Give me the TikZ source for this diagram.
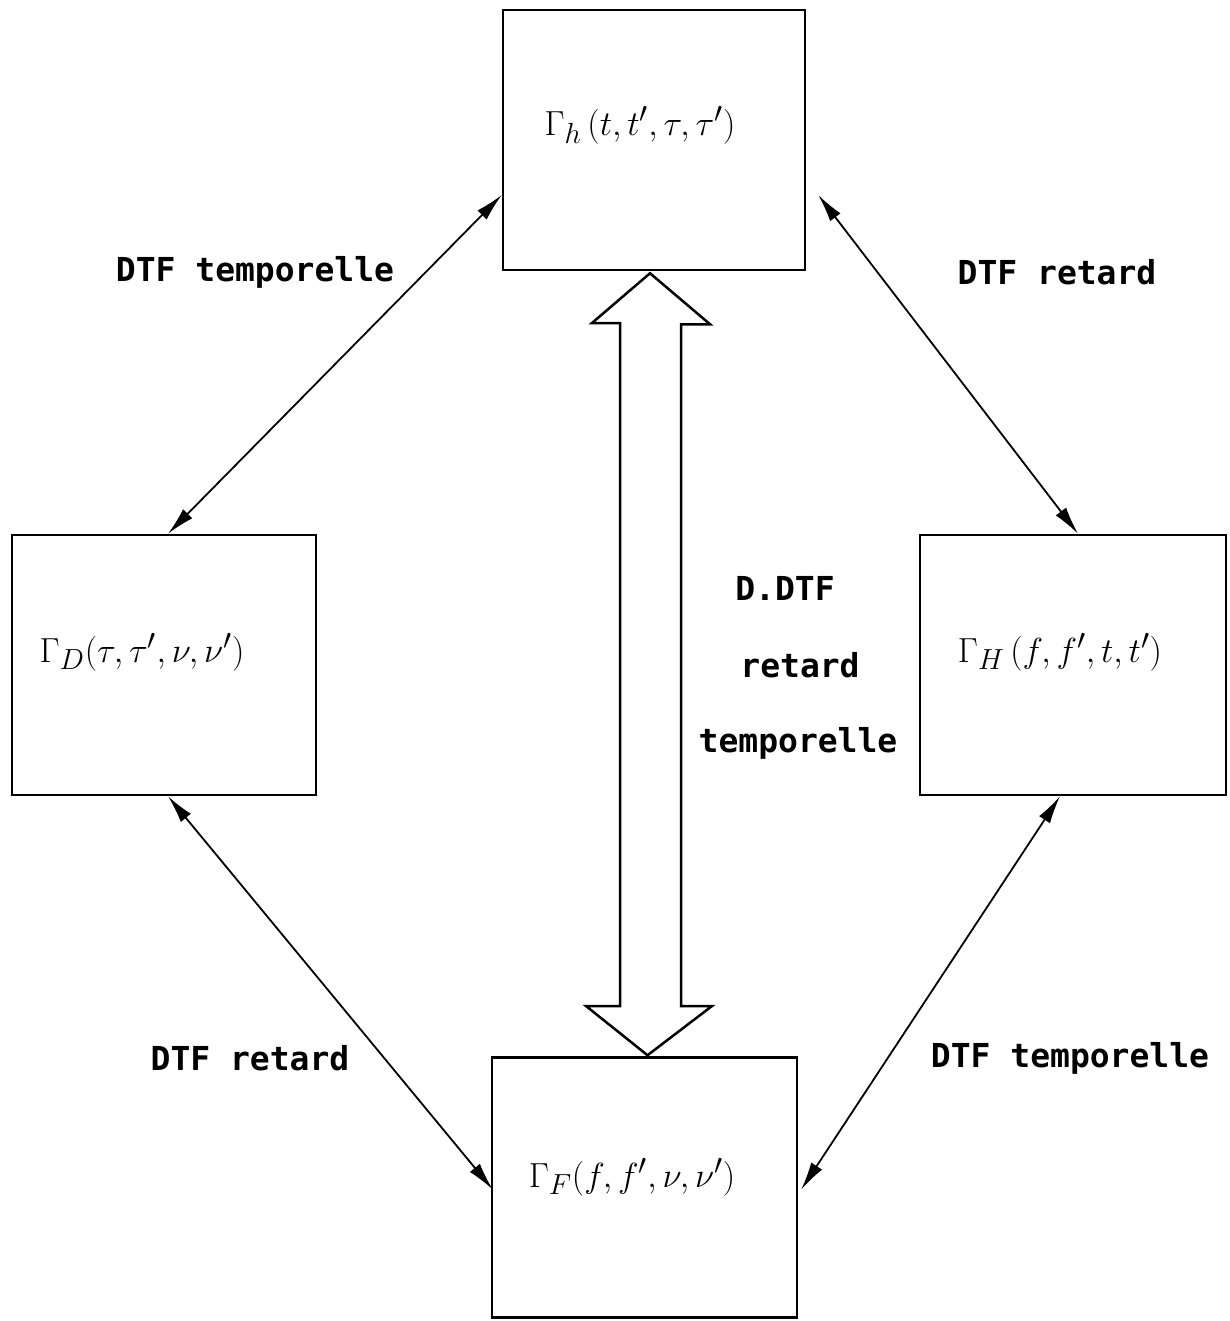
\documentclass[tikz,border=0pt]{standalone}
\usepackage{fontspec}
\setmonofont{DejaVu Sans Mono}
\usetikzlibrary{arrows.meta,calc}
\newcommand{\bigformula}[1]{\scalebox{1.4}{\fontsize{24.88}{30}\selectfont$#1$}}
\begin{document}
\begin{tikzpicture}[x=1pt,y=-1pt,
  box/.style={draw,line width=2.5pt,inner sep=0pt,minimum height=260pt},
  lbl/.style={font=\ttfamily\bfseries\fontsize{33}{38}\selectfont},
  formula/.style={inner sep=2pt},
  link/.style={line width=1.8pt,
    {Latex[length=28pt,width=13pt]}-{Latex[length=28pt,width=13pt]}},
  hollow/.style={draw,line width=2.5pt,fill=white,line join=miter}]
\useasboundingbox (0,0) rectangle (1229,1321);

% the four correlation boxes
\node[box,minimum width=302pt] (top) at (654,140) {};
\node[box,minimum width=304pt] (left) at (164,665) {};
\node[box,minimum width=306pt] (right) at (1073,665) {};
\node[box,minimum width=305pt] (bot) at (644.5,1187.5) {};

% formulas
\node[formula] (ftop) at (640,125) {\bigformula{\Gamma_{h}\,(t,t',\tau,\tau')}};
\node[formula] (fleft) at (142,652) {\bigformula{\Gamma_{D}(\tau,\tau',\nu,\nu')}};
\node[formula] (fright) at (1060,652) {\bigformula{\Gamma_{H}\,(f,f',t,t')}};
\node[formula] (fbot) at (632,1177) {\bigformula{\Gamma_{F}(f,f',\nu,\nu')}};

% single transforms
\draw[link] ([yshift=-55pt]top.west) -- ([xshift=4pt]left.north);
\draw[link] ([xshift=12pt,yshift=-55pt]top.east) -- ([xshift=5pt]right.north);
\draw[link] ([xshift=4pt]left.south) -- ([xshift=2pt,yshift=-2pt]bot.west);
\draw[link] ([xshift=-13pt]right.south) -- ([xshift=3pt,yshift=-2pt]bot.east);

% double transform: hollow two-headed arrow
\coordinate (ttip) at ($(top.south)+(-4,2)$);
\coordinate (btip) at ($(bot.north)+(3,-1)$);
\draw[hollow] (ttip) -- ++(60,51) -- ++(-29,0) -- (681,1006) -- (712,1006)
  -- (btip) -- (586,1006) -- (620,1006) -- (620,323) -- (592,323) -- cycle;

% labels
\node[lbl] (l1) at (255,272) {DTF temporelle};
\node[lbl] (l2) at (1057,272) {DTF retard};
\node[lbl] (l3) at (250,1058) {DTF retard};
\node[lbl] (l4) at (1070,1058) {DTF temporelle};
\node[lbl] (m1) at (785,588) {D.DTF};
\node[lbl] (m2) at (800,665) {retard};
\node[lbl] (m3) at (798,743) {temporelle};
\end{tikzpicture}
\end{document}
